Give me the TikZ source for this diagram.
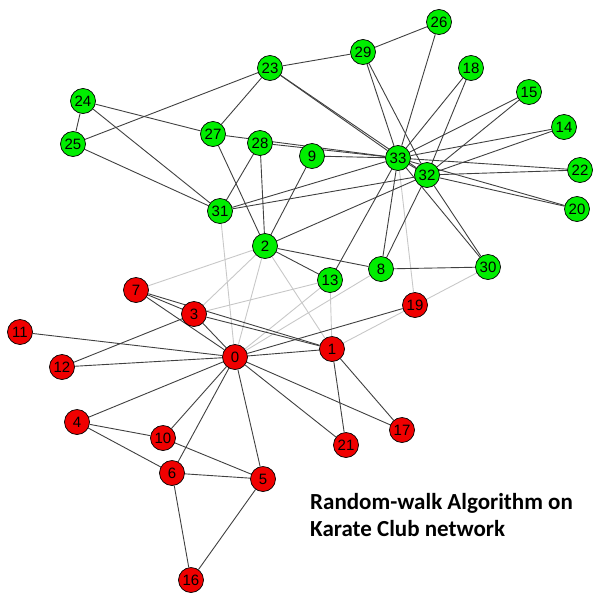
\documentclass[tikz,border=0pt]{standalone}
\usepackage{fontspec}
\setmainfont{Liberation Sans}
\newfontfamily\titlefont{Carlito}
\usetikzlibrary{backgrounds}
\definecolor{gnode}{RGB}{0,238,0}
\definecolor{rnode}{RGB}{240,0,0}
\definecolor{edgedark}{RGB}{64,64,64}
\definecolor{edgelight}{RGB}{200,200,200}
\tikzset{
  vtx/.style={circle,draw=black,line width=0.7pt,minimum size=25pt,inner sep=0pt,font=\fontsize{15}{15}\selectfont},
  gv/.style={vtx,fill=gnode},
  rv/.style={vtx,fill=rnode},
  ein/.style={draw=edgedark,line width=0.9pt},
  eout/.style={draw=edgelight,line width=0.9pt},
  ttl/.style={font=\titlefont\bfseries\fontsize{23}{26}\selectfont,anchor=base west,inner sep=0pt}
}
\begin{document}
\begin{tikzpicture}[x=1pt,y=-1pt]
\useasboundingbox (0,0) rectangle (600,600);
% red nodes
\node[rv] (n0) at (235,357) {0};
\node[rv] (n1) at (332,349) {1};
\node[rv] (n3) at (194,314) {3};
\node[rv] (n4) at (77,422) {4};
\node[rv] (n5) at (263,479) {5};
\node[rv] (n6) at (172,473) {6};
\node[rv] (n7) at (136,290) {7};
\node[rv] (n10) at (163,438) {10};
\node[rv] (n11) at (20,332) {11};
\node[rv] (n12) at (62,367) {12};
\node[rv] (n16) at (191,580) {16};
\node[rv] (n17) at (402,430) {17};
\node[rv] (n19) at (415,305) {19};
\node[rv] (n21) at (346,445) {21};
% green nodes
\node[gv] (n2) at (265,246) {2};
\node[gv] (n8) at (381,269) {8};
\node[gv] (n9) at (312,156) {9};
\node[gv] (n13) at (330,280) {13};
\node[gv] (n14) at (564,127) {14};
\node[gv] (n15) at (529,92) {15};
\node[gv] (n18) at (471,68) {18};
\node[gv] (n20) at (577,209) {20};
\node[gv] (n22) at (580,170) {22};
\node[gv] (n23) at (270,68) {23};
\node[gv] (n24) at (83,101) {24};
\node[gv] (n25) at (73,144) {25};
\node[gv] (n26) at (439,22) {26};
\node[gv] (n27) at (213,134) {27};
\node[gv] (n28) at (260,143) {28};
\node[gv] (n29) at (363,52) {29};
\node[gv] (n30) at (488,267) {30};
\node[gv] (n31) at (220,211) {31};
\node[gv] (n32) at (427,175) {32};
\node[gv] (n33) at (398,158) {33};
\begin{scope}[on background layer]
% inter-community edges
\foreach \a/\b in {0/2,0/8,0/13,0/31,1/2,1/13,1/30,2/3,2/7,3/13,19/33}
  \draw[eout] (n\a) -- (n\b);
% intra-community edges
\foreach \a/\b in {0/1,0/3,0/4,0/5,0/6,0/7,0/10,0/11,0/12,0/17,0/19,0/21,
  1/3,1/7,1/17,1/21,3/7,3/12,4/6,4/10,5/6,5/10,5/16,6/16,
  2/8,2/9,2/13,2/27,2/28,2/32,8/30,8/32,8/33,9/33,13/33,14/32,14/33,
  15/32,15/33,18/32,18/33,20/32,20/33,22/32,22/33,23/25,23/27,23/29,
  23/32,23/33,24/25,24/27,24/31,25/31,26/29,26/33,27/33,28/31,28/33,
  29/32,29/33,30/32,30/33,31/32,31/33,32/33}
  \draw[ein] (n\a) -- (n\b);
\end{scope}
\node[ttl] (title1) at (310,509) {Random-walk Algorithm on};
\node[ttl] (title2) at (310,536) {Karate Club network};
\end{tikzpicture}
\end{document}
